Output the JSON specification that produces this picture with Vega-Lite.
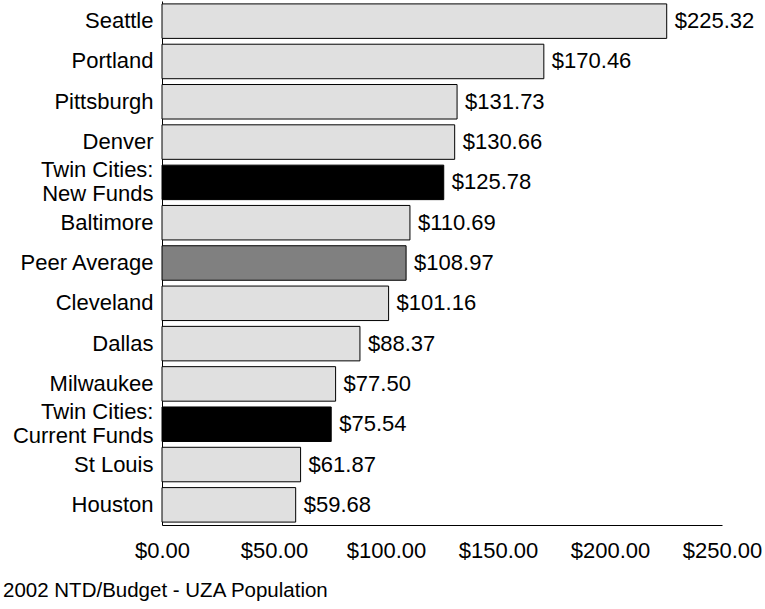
{
  "$schema": "https://vega.github.io/schema/vega-lite/v6.json",
  "width": 560,
  "height": 524,
  "autosize": {"type": "none"},
  "padding": {"left": 162, "top": 1, "right": 43, "bottom": 84},
  "background": "white",
  "config": {"view": {"stroke": null}, "font": "Liberation Sans"},
  "title": {
    "text": "2002 NTD/Budget - UZA Population",
    "orient": "bottom",
    "anchor": "start",
    "frame": "group",
    "dx": -159,
    "offset": 20,
    "fontSize": 20.5,
    "fontWeight": "normal",
    "color": "black",
    "font": "Liberation Sans"
  },
  "data": {
    "values": [
      {"city": "Seattle", "value": 225.32, "group": "peer"},
      {"city": "Portland", "value": 170.46, "group": "peer"},
      {"city": "Pittsburgh", "value": 131.73, "group": "peer"},
      {"city": "Denver", "value": 130.66, "group": "peer"},
      {"city": "Twin Cities:|New Funds", "value": 125.78, "group": "tc"},
      {"city": "Baltimore", "value": 110.69, "group": "peer"},
      {"city": "Peer Average", "value": 108.97, "group": "avg"},
      {"city": "Cleveland", "value": 101.16, "group": "peer"},
      {"city": "Dallas", "value": 88.37, "group": "peer"},
      {"city": "Milwaukee", "value": 77.50, "group": "peer"},
      {"city": "Twin Cities:|Current Funds", "value": 75.54, "group": "tc"},
      {"city": "St Louis", "value": 61.87, "group": "peer"},
      {"city": "Houston", "value": 59.68, "group": "peer"}
    ]
  },
  "encoding": {
    "y": {
      "field": "city",
      "type": "nominal",
      "sort": null,
      "scale": {"paddingInner": 0.144, "paddingOuter": 0.072},
      "axis": {
        "title": null,
        "ticks": false,
        "labelFontSize": 22,
        "labelColor": "black",
        "labelPadding": 9,
        "labelLimit": 300,
        "labelLineHeight": 24,
        "labelOffset": {"expr": "indexof(datum.value, '|') >= 0 ? -12 : 0"},
        "labelExpr": "split(datum.value, '|')",
        "domainColor": "black",
        "domainWidth": 1
      }
    },
    "x": {
      "field": "value",
      "type": "quantitative",
      "scale": {"domain": [0, 250], "nice": false},
      "axis": {
        "title": null,
        "values": [0, 50, 100, 150, 200, 250],
        "format": "$.2f",
        "grid": false,
        "ticks": false,
        "labelFontSize": 22,
        "labelColor": "black",
        "labelPadding": 15,
        "labelFlush": false,
        "domainColor": "black",
        "domainWidth": 1
      }
    }
  },
  "layer": [
    {
      "mark": {"type": "bar", "stroke": "black", "strokeWidth": 1},
      "encoding": {
        "color": {
          "field": "group",
          "type": "nominal",
          "scale": {"domain": ["peer", "tc", "avg"], "range": ["#e0e0e0", "#000000", "#808080"]},
          "legend": null
        }
      }
    },
    {
      "mark": {"type": "text", "align": "left", "baseline": "middle", "dx": 8, "fontSize": 22, "color": "black"},
      "encoding": {
        "text": {"field": "value", "type": "quantitative", "format": "$.2f"}
      }
    }
  ]
}
